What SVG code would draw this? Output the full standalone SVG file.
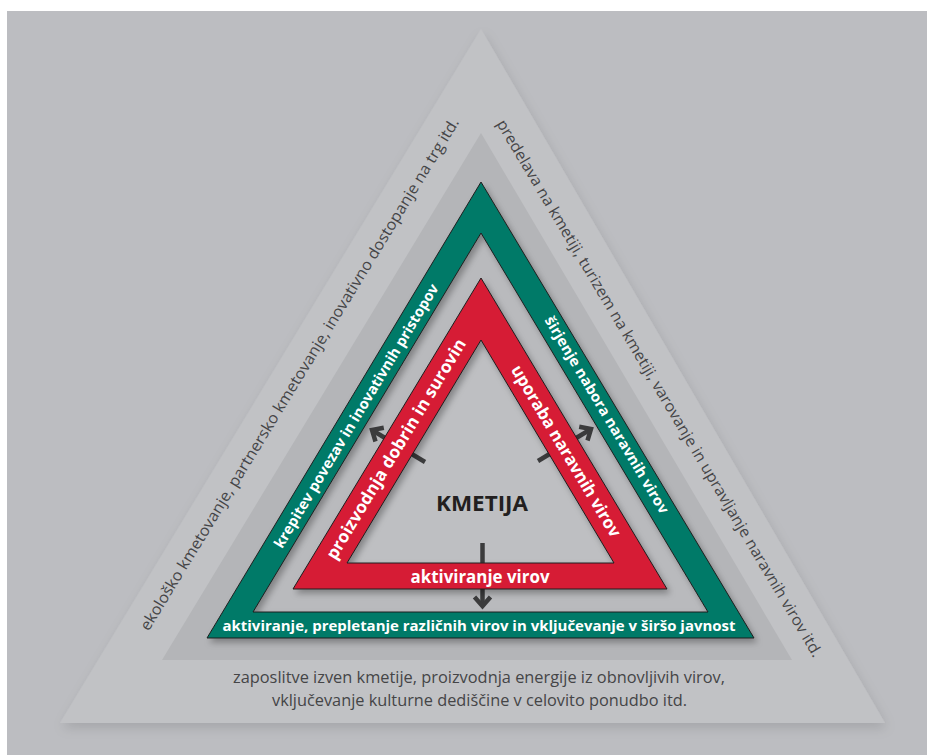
<svg xmlns="http://www.w3.org/2000/svg" width="927" height="755" viewBox="0 0 927 755">
  <defs>
    <style>
      .outer { font-family: "Open Sans", "Liberation Sans", sans-serif; font-size: 15.5px; fill: #454547; }
      .band { font-family: "Open Sans", "Liberation Sans", sans-serif; font-weight: 700; fill: #ffffff; }
      .title { font-family: "Open Sans", "Liberation Sans", sans-serif; font-weight: 700; font-size: 21px; fill: #231f20; }
      .arrow { fill: none; stroke: #3b3b3c; stroke-width: 4.5; stroke-linejoin: miter; stroke-linecap: butt; }
      .edge { stroke: #1f1f1f; stroke-width: 1; fill-rule: evenodd; }
    </style>
    <filter id="shadow" x="-10%" y="-10%" width="125%" height="125%">
      <feDropShadow dx="3" dy="4" stdDeviation="3" flood-color="#000" flood-opacity="0.3"/>
    </filter>
    <filter id="softshadow" x="-10%" y="-10%" width="125%" height="125%">
      <feDropShadow dx="2" dy="5" stdDeviation="6" flood-color="#000" flood-opacity="0.12"/>
    </filter>
  </defs>

  <rect id="background" x="7" y="11" width="920" height="744" fill="#bcbdc1"/>

  <g id="outer-band">
    <path d="M481,29 L885,723 L60,723 Z" fill="#c1c2c5" filter="url(#softshadow)"/>
    <text class="outer" transform="translate(304,377) rotate(-58.6)" text-anchor="middle" textLength="597" lengthAdjust="spacingAndGlyphs">ekološko kmetovanje, partnersko kmetovanje, inovativno dostopanje na trg itd.</text>
    <text class="outer" transform="translate(655,391) rotate(59.3)" text-anchor="middle" textLength="622" lengthAdjust="spacingAndGlyphs">predelava na kmetiji, turizem na kmetiji, varovanje in upravljanje naravnih virov itd.</text>
    <text class="outer" x="479" y="683" text-anchor="middle" textLength="492" lengthAdjust="spacingAndGlyphs">zaposlitve izven kmetije, proizvodnja energije iz obnovljivih virov,</text>
    <text class="outer" x="479.5" y="706" text-anchor="middle" textLength="415" lengthAdjust="spacingAndGlyphs">vključevanje kulturne dediščine v celovito ponudbo itd.</text>
  </g>

  <g id="middle-band">
    <path d="M481,133 L792,660 L162,660 Z" fill="#b4b5b8"/>
  </g>

  <g id="green-band">
    <path d="M481,233 L708,612 L253,612 Z" fill="#b9babd"/>
    <path class="edge" d="M481,182 L754,638 L207,638 Z M481,233 L708,612 L253,612 Z" fill="#007a67" filter="url(#shadow)"/>
    <text class="band" font-size="15" x="479" y="631" text-anchor="middle" textLength="513" lengthAdjust="spacingAndGlyphs">aktiviranje, prepletanje različnih virov in vključevanje v širšo javnost</text>
    <text class="band" font-size="14.5" transform="translate(360.5,418.5) rotate(-59)" text-anchor="middle" textLength="305" lengthAdjust="spacingAndGlyphs">krepitev povezav in inovativnih pristopov</text>
    <text class="band" font-size="14.5" transform="translate(602.5,417.5) rotate(59.1)" text-anchor="middle" textLength="227" lengthAdjust="spacingAndGlyphs">širjenje nabora naravnih virov</text>
  </g>

  <g id="kmetija">
    <path d="M481,340 L614,563 L347,563 Z" fill="#bebfc2"/>
    <text class="title" x="482" y="511" text-anchor="middle" textLength="92" lengthAdjust="spacingAndGlyphs">KMETIJA</text>
  </g>

  <g id="connectors">
    <line class="arrow" x1="425" y1="462" x2="373.5" y2="431"/>
    <polyline class="arrow" points="375.5,441.5 372,430 383.8,427.7"/>
    <line class="arrow" x1="538" y1="461" x2="589.5" y2="430"/>
    <polyline class="arrow" points="579.2,426.7 591,429 587.5,440.5"/>
    <line class="arrow" x1="482.5" y1="543" x2="482.5" y2="604"/>
    <polyline class="arrow" points="474.5,597 482.5,606 490.5,597"/>
  </g>

  <g id="red-band">
    <path class="edge" d="M481,278 L667,589 L293,589 Z M481,340 L614,563 L347,563 Z" fill="#d61f36" filter="url(#shadow)"/>
    <text class="band" font-size="17" x="480" y="582.5" text-anchor="middle" textLength="139" lengthAdjust="spacingAndGlyphs">aktiviranje virov</text>
    <text class="band" font-size="17" transform="translate(401,452) rotate(-58.9)" text-anchor="middle" textLength="254" lengthAdjust="spacingAndGlyphs">proizvodnja dobrin in surovin</text>
    <text class="band" font-size="17" transform="translate(561,454) rotate(59.1)" text-anchor="middle" textLength="197" lengthAdjust="spacingAndGlyphs">uporaba naravnih virov</text>
  </g>
</svg>
